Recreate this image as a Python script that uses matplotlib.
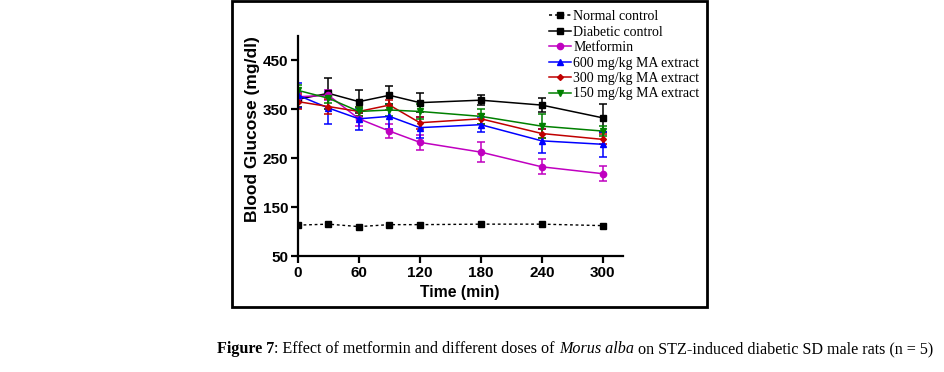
import numpy as np
import matplotlib
matplotlib.use('Agg')
import matplotlib.pyplot as plt
from matplotlib.patches import Rectangle
from matplotlib.lines import Line2D

# data (mean +/- SEM, mg/dl)
time = [0, 30, 60, 90, 120, 180, 240, 300]
normal = [113, 115, 110, 114, 114, 115, 115, 112]
diabetic = [370, 382, 365, 378, 363, 368, 358, 332]
diabetic_err = [15, 32, 23, 18, 20, 10, 15, 28]
metformin = [375, 378, 330, 305, 282, 262, 232, 218]
metformin_err = [10, 10, 15, 15, 15, 20, 15, 15]
ma600 = [378, 352, 330, 335, 312, 318, 285, 278]
ma600_err = [25, 32, 22, 25, 22, 15, 25, 25]
ma300 = [365, 355, 345, 358, 322, 330, 300, 288]
ma300_err = [15, 15, 10, 10, 12, 10, 10, 10]
ma150 = [388, 372, 345, 348, 345, 335, 315, 305]
ma150_err = [12, 10, 10, 12, 15, 15, 25, 10]

labels = ['Normal control', 'Diabetic control', 'Metformin',
          '600 mg/kg MA extract', '300 mg/kg MA extract', '150 mg/kg MA extract']

W, H = 945, 372
fig = plt.figure(figsize=(W / 100, H / 100), dpi=100)

def fx(px):
    return px / W

def fy(py):
    return 1 - py / H

# outer frame around the chart
fig.patches.append(Rectangle((fx(232), fy(307)), fx(707) - fx(232), fy(1) - fy(307),
                             transform=fig.transFigure, fill=False, lw=2, ec='black'))

ax = fig.add_axes([fx(298), fy(256), fx(623) - fx(298), fy(36) - fy(256)])

kw = dict(lw=1.1, capsize=3, elinewidth=1.1, capthick=1.1)
styles = [('black', 's', 5), ('black', 's', 5), ('#c000c0', 'o', 4.5),
          ('#0000ff', '^', 5), ('#c00000', 'D', 3), ('#008000', 'v', 5)]
series = [(diabetic, diabetic_err), (metformin, metformin_err), (ma600, ma600_err),
          (ma300, ma300_err), (ma150, ma150_err)]

ax.plot(time, normal, ls=(0, (2, 2)), color='black', marker='s', ms=5, lw=1)
for (y, e), (c, m, ms) in zip(series, styles[1:]):
    ax.errorbar(time, y, yerr=e, color=c, marker=m, ms=ms, **kw)

handles = [Line2D([], [], color=c, marker=m, ms=ms, lw=1.1) for c, m, ms in styles]
handles[0].set_linestyle((0, (2, 2)))

ax.set_xlim(0, 320)
ax.set_ylim(50, 499)
ax.set_xticks([0, 60, 120, 180, 240, 300])
ax.set_yticks([50, 150, 250, 350, 450])
for s in ['top', 'right']:
    ax.spines[s].set_visible(False)
for s in ['left', 'bottom']:
    ax.spines[s].set_linewidth(1.6)
ax.tick_params(direction='out', length=5, width=1.6, pad=2)
for t in ax.get_xticklabels() + ax.get_yticklabels():
    t.set_fontfamily('Liberation Sans')
    t.set_fontweight('bold')
    t.set_fontsize(11)

fig.text(fx(253), fy(129), 'Blood Glucose (mg/dl)', rotation=90, ha='center', va='center',
         family='Liberation Sans', weight='bold', fontsize=12.5)
fig.text(fx(460), fy(293), 'Time (min)', ha='center', va='center',
         family='Liberation Sans', weight='bold', fontsize=11.3)

fig.legend(handles, labels, loc='upper left', bbox_to_anchor=(fx(549), fy(10)),
           frameon=False, prop={'family': 'Liberation Serif', 'size': 10},
           handlelength=1.6, handletextpad=0.15, labelspacing=0.18, borderpad=0,
           borderaxespad=0)

# caption with mixed styles
pieces = [('Figure 7', dict(weight='bold')),
          (': Effect of metformin and different doses of ', {}),
          ('Morus alba', dict(style='italic')),
          (' on STZ-induced diabetic SD male rats (n = 5)', {})]
r = fig.canvas.get_renderer()
texts = []
for s, st in pieces:
    t = fig.text(0, fy(349), s, family='Liberation Serif', fontsize=11.6, va='center', **st)
    texts.append(t)
widths = [t.get_window_extent(r).width for t in texts]
x = 575 - sum(widths) / 2
for t, w in zip(texts, widths):
    t.set_x(fx(x))
    x += w

fig.savefig('out.png', dpi=100)
